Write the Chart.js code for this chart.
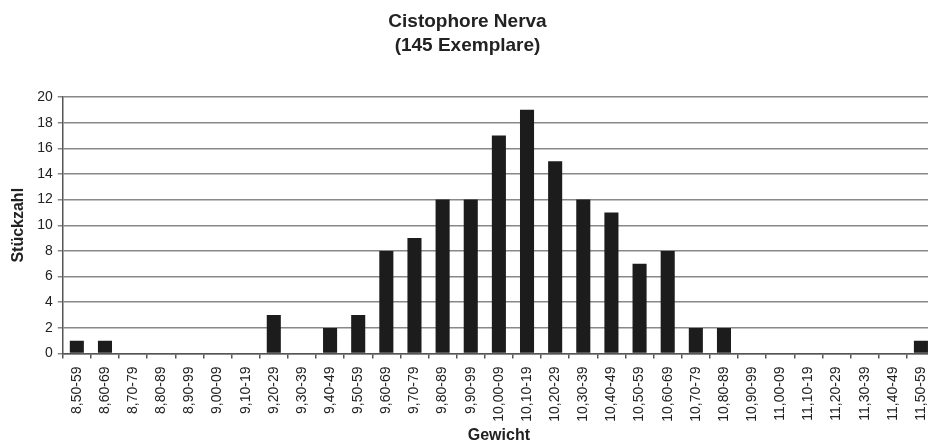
<!DOCTYPE html>
<html>
<head>
<meta charset="utf-8">
<script src="https://cdn.jsdelivr.net/npm/chart.js@4/dist/chart.umd.min.js"></script>
<style>
  html, body { margin: 0; padding: 0; background: #fff; overflow: hidden; }
  #wrap { width: 938px; height: 446px; }
</style>
</head>
<body>
<div id="wrap"><canvas id="c" width="938" height="446"></canvas></div>
<script>
const categories = ["8,50-59","8,60-69","8,70-79","8,80-89","8,90-99","9,00-09","9,10-19","9,20-29","9,30-39","9,40-49","9,50-59","9,60-69","9,70-79","9,80-89","9,90-99","10,00-09","10,10-19","10,20-29","10,30-39","10,40-49","10,50-59","10,60-69","10,70-79","10,80-89","10,90-99","11,00-09","11,10-19","11,20-29","11,30-39","11,40-49","11,50-59"];
const counts = [1,1,0,0,0,0,0,3,0,2,3,8,9,12,12,17,19,15,12,11,7,8,2,2,0,0,0,0,0,0,1];
const titleLines = ["Cistophore Nerva", "(145 Exemplare)"];
const xTitle = "Gewicht";
const yTitle = "Stückzahl";
const yMin = 0, yMax = 20, yStep = 2;

const textColor = "#222";
new Chart(document.getElementById("c"), {
  type: "bar",
  data: {
    labels: categories,
    datasets: [{
      data: counts,
      backgroundColor: "#1c1c1c",
      borderWidth: 0,
      barPercentage: 0.5,
      categoryPercentage: 1.0
    }]
  },
  options: {
    responsive: false,
    animation: false,
    layout: { padding: { left: 0, right: 3, top: 0, bottom: 0 } },
    plugins: {
      legend: { display: false },
      tooltip: { enabled: false },
      title: {
        display: true,
        text: titleLines,
        color: textColor,
        font: { family: "'Liberation Sans', Arial, sans-serif", size: 19, weight: "bold", lineHeight: 1.25 },
        padding: { top: 10, bottom: 39.5 }
      }
    },
    scales: {
      x: {
        offset: true,
        afterFit: (scale) => { scale.paddingRight = 0; scale.height -= 8; },
        grid: {
          offset: true,
          drawOnChartArea: false,
          drawTicks: true,
          tickLength: 5,
          color: "#555",
          lineWidth: 1.5
        },
        border: { display: true, color: "#555", width: 1.5 },
        ticks: {
          autoSkip: false,
          maxRotation: 90,
          minRotation: 90,
          padding: 8,
          color: textColor,
          font: { family: "'Liberation Sans', Arial, sans-serif", size: 14 }
        },
        title: {
          display: true,
          text: xTitle,
          color: textColor,
          font: { family: "'Liberation Sans', Arial, sans-serif", size: 16, weight: "bold", lineHeight: 1.2 },
          padding: { top: 4, bottom: 1 }
        }
      },
      y: {
        min: yMin,
        max: yMax,
        ticks: {
          stepSize: yStep,
          padding: 5,
          color: textColor,
          font: { family: "'Liberation Sans', Arial, sans-serif", size: 14 }
        },
        grid: {
          color: "#888",
          lineWidth: 1.5,
          drawTicks: true,
          tickLength: 5
        },
        border: { display: true, color: "#555", width: 1.5 },
        title: {
          display: true,
          text: yTitle,
          color: textColor,
          font: { family: "'Liberation Sans', Arial, sans-serif", size: 16, weight: "bold", lineHeight: 1.2 },
          padding: { top: 9, bottom: 4 }
        }
      }
    }
  }
});
</script>
</body>
</html>
